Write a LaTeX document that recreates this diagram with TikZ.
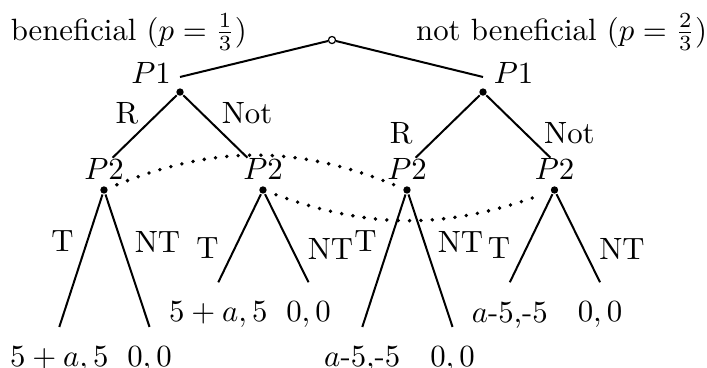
\documentclass[tikz,border=0pt]{standalone}
\usetikzlibrary{positioning}

\begin{document}
\begin{tikzpicture}[line width=0.65pt,
    chance/.style={circle, draw, fill=white, line width=0.4pt, inner sep=0pt, minimum size=2.3pt},
    dec/.style={circle, fill, inner sep=0pt, minimum size=2.4pt},
    player/.style={inner sep=0pt},
    leaf/.style={inner xsep=0pt, inner ysep=6pt},
    infoset/.style={line width=1.25pt, line cap=round, dash pattern=on 0pt off 3.7pt, shorten <=3pt, shorten >=3pt}]
    \useasboundingbox (-3.79,-3.744) rectangle (4.281,0.457);
    % nature
    \node[chance] (root) at (0,0) {};
    \node[player, anchor=base east] (ben) at (-0.96,0) {beneficial ($p=\frac{1}{3}$)};
    \node[player, anchor=base west] (notben) at (0.95,0) {not beneficial ($p=\frac{2}{3}$)};
    % player 1
    \node[dec] (p1a) at (-1.735,-0.594) {};
    \node[dec] (p1b) at (1.724,-0.594) {};
    \node[player, anchor=base] (lp1a) at (-2.066,-0.491) {$P1$};
    \node[player, anchor=base] (lp1b) at (2.072,-0.491) {$P1$};
    \coordinate (in1a) at (-1.735,-0.422);
    \coordinate (in1b) at (1.724,-0.422);
    \draw (root) -- (in1a);
    \draw (root) -- (in1b);
    % player 2
    \node[dec] (p2a) at (-2.603,-1.712) {};
    \node[dec] (p2b) at (-0.788,-1.712) {};
    \node[dec] (p2c) at (0.856,-1.712) {};
    \node[dec] (p2d) at (2.540,-1.712) {};
    \node[player, above=1.6pt of p2a] (lp2a) {$P2$};
    \node[player, above=1.6pt of p2b] (lp2b) {$P2$};
    \node[player, above=1.6pt of p2c] (lp2c) {$P2$};
    \node[player, above=1.6pt of p2d] (lp2d) {$P2$};
    \coordinate (ea) at (-2.505,-1.344);
    \coordinate (eb) at (-0.965,-1.344);
    \coordinate (ec) at (0.954,-1.344);
    \coordinate (ed) at (2.494,-1.344);
    \draw (p1a) -- (ea);
    \draw (p1a) -- (eb);
    \draw (p1b) -- (ec);
    \draw (p1b) -- (ed);
    \node at (-2.34,-0.84) (ra) {R};
    \node at (-0.97,-0.84) (na) {Not};
    \node at (0.79,-1.06) (rb) {R};
    \node at (2.71,-1.06) (nb) {Not};
    % outcomes
    \node[leaf, below=1.51cm of p2a, xshift=-0.51cm] (la1) {$5+a, 5$};
    \node[leaf, below=1.51cm of p2a, xshift=0.52cm] (la2) {$0, 0$};
    \node[leaf, below=1.00cm of p2b, xshift=-0.51cm] (lb1) {$5+a, 5$};
    \node[leaf, below=1.00cm of p2b, xshift=0.52cm] (lb2) {$0, 0$};
    \node[leaf, below=1.51cm of p2c, xshift=-0.51cm] (lc1) {$a$-5,-5};
    \node[leaf, below=1.51cm of p2c, xshift=0.52cm] (lc2) {$0, 0$};
    \node[leaf, below=1.00cm of p2d, xshift=-0.51cm] (ld1) {$a$-5,-5};
    \node[leaf, below=1.00cm of p2d, xshift=0.52cm] (ld2) {$0, 0$};
    \draw (p2a) -- (la1.north);
    \draw (p2a) -- (la2.north);
    \draw (p2b) -- (lb1.north);
    \draw (p2b) -- (lb2.north);
    \draw (p2c) -- (lc1.north);
    \draw (p2c) -- (lc2.north);
    \draw (p2d) -- (ld1.north);
    \draw (p2d) -- (ld2.north);
    \node at (-3.077,-2.300) (ta) {T};
    \node at (-1.993,-2.300) (nta) {NT};
    \node at (-1.422,-2.380) (tb) {T};
    \node at (-0.017,-2.380) (ntb) {NT};
    \node at (0.382,-2.300) (tc) {T};
    \node at (1.466,-2.300) (ntc) {NT};
    \node at (1.906,-2.380) (td) {T};
    \node at (3.311,-2.380) (ntd) {NT};
    % information sets
    \draw[infoset] (p2a) to[bend left=22] (p2c);
    \draw[infoset] (p2b) to[bend right=20] (p2d);
\end{tikzpicture}
\end{document}
